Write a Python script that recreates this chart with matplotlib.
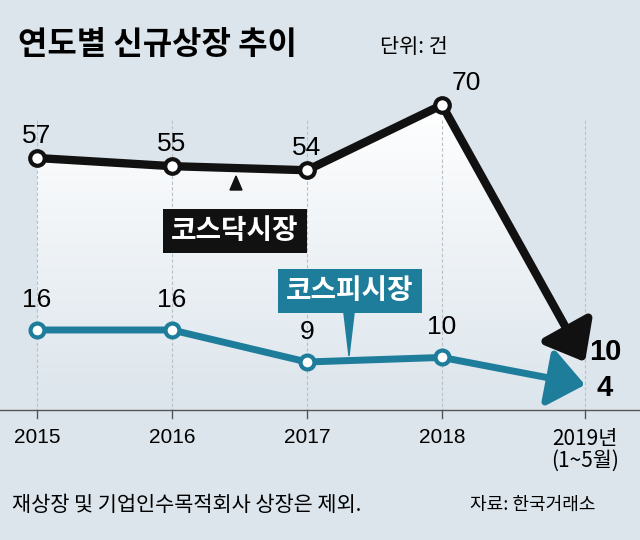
import numpy as np
import matplotlib.pyplot as plt
from matplotlib.patches import Polygon, FancyArrowPatch
from matplotlib.colors import LinearSegmentedColormap

KR = ['Noto Sans CJK KR', 'Noto Sans CJK JP', 'Noto Sans CJK SC', 'DejaVu Sans']
plt.rcParams['font.family'] = KR

years = ['2015', '2016', '2017', '2018', '2019년\n(1~5월)']
kosdaq = [57, 55, 54, 70, 10]
kospi = [16, 16, 9, 10, 4]

TEAL = '#1f7d9c'
BG = '#dce5ec'

fig = plt.figure(figsize=(6.4, 5.4), dpi=100, facecolor=BG)
ax = fig.add_axes([0, 0, 1, 1])
ax.set_facecolor(BG)
ax.set_xlim(0, 640)
ax.set_ylim(540, 0)
ax.axis('off')

xs = np.array([37, 172, 307, 442, 585])
yq = 158 - (np.array(kosdaq) - 57) * 4.08
yq[-1] = 362
yp = 330 - (np.array(kospi) - 16) * 4.57

# gradient under kosdaq line
cmap = LinearSegmentedColormap.from_list('g', ['white', BG])
grad = np.linspace(0, 1, 100).reshape(-1, 1)
im = ax.imshow(grad, extent=[0, 640, 410, 100], cmap=cmap, vmin=0, vmax=1,
               aspect='auto', zorder=0)
poly = Polygon(list(zip(xs, yq)) + [(xs[-1], 410), (xs[0], 410)], closed=True,
               transform=ax.transData)
im.set_clip_path(poly)

for x in xs:
    ax.plot([x, x], [120, 410], color='#b8c0c8', lw=0.8, ls=(0, (3, 2)), zorder=1)
ax.plot([0, 640], [410, 410], color='#555555', lw=1)
for x in xs:
    ax.plot([x, x], [410, 418], color='#555555', lw=1)

# kosdaq line
ax.plot(xs[:4], yq[:4], color='#111111', lw=6, zorder=3, solid_capstyle='round')
ax.add_patch(FancyArrowPatch((xs[3], yq[3]), (xs[4], yq[4]), arrowstyle='-|>,head_length=10,head_width=8',
                             color='#111111', lw=6, mutation_scale=2.2, zorder=3, shrinkA=0, shrinkB=0))
ax.scatter(xs[:4], yq[:4], s=110, facecolor='white', edgecolor='#111111', linewidths=3, zorder=4)
# kospi line
ax.plot(xs[:4], yp[:4], color=TEAL, lw=5, zorder=3)
ax.add_patch(FancyArrowPatch((xs[3], yp[3]), (xs[4], yp[4]), arrowstyle='-|>,head_length=10,head_width=8',
                             color=TEAL, lw=5, mutation_scale=2.2, zorder=3, shrinkA=0, shrinkB=0))
ax.scatter(xs[:4], yp[:4], s=100, facecolor='white', edgecolor=TEAL, linewidths=3, zorder=4)

for i in range(4):
    ax.text(xs[i] + (10 if i == 3 else 0), yq[i] - 22, str(kosdaq[i]), ha='center' if i < 3 else 'left',
            va='center', fontsize=19, family='Liberation Sans')
    ax.text(xs[i], yp[i] - 30, str(kospi[i]), ha='center', va='center', fontsize=19, family='Liberation Sans')
ax.text(605, 352, str(kosdaq[4]), ha='center', va='center', fontsize=21, weight='bold', family='Liberation Sans')
ax.text(605, 388, str(kospi[4]), ha='center', va='center', fontsize=21, weight='bold', family='Liberation Sans')

# labels
ax.add_patch(Polygon([(230, 190), (236, 176), (242, 190)], color='#111111', zorder=5))
ax.text(235, 231, '코스닥시장', ha='center', va='center', fontsize=20, weight='bold', color='white',
        bbox=dict(boxstyle='square,pad=0.3', fc='#111111', ec='none'), zorder=5)
ax.add_patch(Polygon([(343, 305), (349, 356), (355, 305)], color=TEAL, zorder=5))
ax.text(350, 291, '코스피시장', ha='center', va='center', fontsize=20, weight='bold', color='white',
        bbox=dict(boxstyle='square,pad=0.3', fc=TEAL, ec='none'), zorder=5)

for x, lab in zip(xs, years):
    ax.text(x, 428, lab, ha='center', va='top', fontsize=15,
            family='Liberation Sans' if len(lab) == 4 else KR, linespacing=1.0)

ax.text(18, 45, '연도별 신규상장 추이', fontsize=23, weight='bold', va='center')
ax.text(380, 47, '단위: 건', fontsize=15, va='center')
ax.text(12, 505, '재상장 및 기업인수목적회사 상장은 제외.', fontsize=15, va='center')
ax.text(470, 505, '자료: 한국거래소', fontsize=13, va='center')

fig.savefig('out.png', dpi=100, facecolor=BG)
